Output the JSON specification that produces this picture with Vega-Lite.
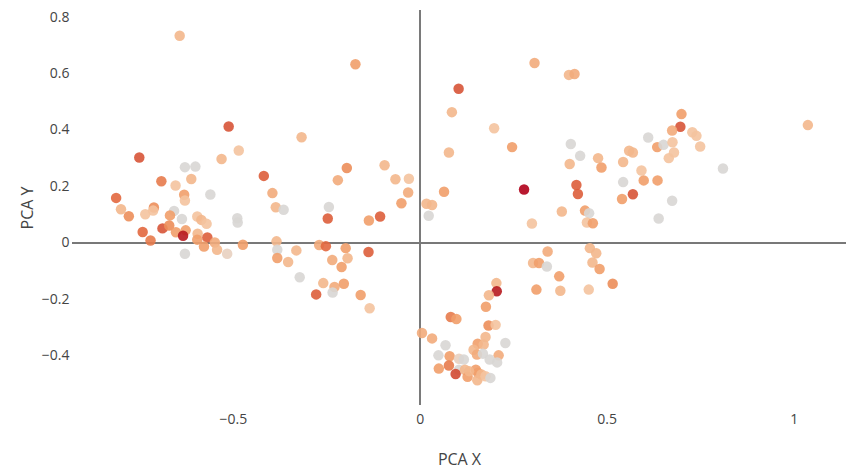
{
  "$schema": "https://vega.github.io/schema/vega-lite/v6.json",
  "autosize": {"type": "none"},
  "padding": {"left": 72, "top": 10, "right": 0, "bottom": 65},
  "width": 774,
  "height": 395,
  "background": "white",
  "config": {
    "view": {"stroke": null},
    "font": "Open Sans",
    "axis": {"domain": false, "ticks": false, "gridColor": "#eeeeee", "gridWidth": 1, "labelColor": "#444444", "labelFontSize": 14, "titleColor": "#444444", "titleFontSize": 16, "titleFontWeight": "normal", "labelFont": "Open Sans", "titleFont": "Open Sans"}
  },
  "data": {"values": [
    {"x": -0.642, "y": 0.734, "c": 0.35}, {"x": -0.511, "y": 0.412, "c": 0.7}, {"x": -0.75, "y": 0.302, "c": 0.7},
    {"x": -0.628, "y": 0.268, "c": 0}, {"x": -0.6, "y": 0.27, "c": 0}, {"x": -0.53, "y": 0.297, "c": 0.35},
    {"x": -0.484, "y": 0.327, "c": 0.3}, {"x": -0.691, "y": 0.218, "c": 0.55}, {"x": -0.653, "y": 0.203, "c": 0.3},
    {"x": -0.611, "y": 0.226, "c": 0.35}, {"x": -0.417, "y": 0.237, "c": 0.65}, {"x": -0.56, "y": 0.171, "c": 0},
    {"x": -0.63, "y": 0.17, "c": 0.45}, {"x": -0.628, "y": 0.15, "c": 0.3}, {"x": -0.812, "y": 0.159, "c": 0.6},
    {"x": -0.799, "y": 0.119, "c": 0.35}, {"x": -0.778, "y": 0.094, "c": 0.5}, {"x": -0.734, "y": 0.101, "c": 0.3},
    {"x": -0.711, "y": 0.125, "c": 0.5}, {"x": -0.713, "y": 0.114, "c": 0.3}, {"x": -0.657, "y": 0.113, "c": 0},
    {"x": -0.668, "y": 0.097, "c": 0.45}, {"x": -0.636, "y": 0.084, "c": 0}, {"x": -0.595, "y": 0.093, "c": 0.3},
    {"x": -0.584, "y": 0.081, "c": 0.35}, {"x": -0.57, "y": 0.067, "c": 0.3}, {"x": -0.488, "y": 0.087, "c": 0},
    {"x": -0.487, "y": 0.072, "c": 0}, {"x": -0.688, "y": 0.051, "c": 0.7}, {"x": -0.67, "y": 0.061, "c": 0.5},
    {"x": -0.741, "y": 0.038, "c": 0.6}, {"x": -0.72, "y": 0.008, "c": 0.55}, {"x": -0.652, "y": 0.037, "c": 0.45},
    {"x": -0.626, "y": 0.044, "c": 0.45}, {"x": -0.633, "y": 0.025, "c": 0.95}, {"x": -0.594, "y": 0.032, "c": 0.35},
    {"x": -0.595, "y": 0.011, "c": 0.45}, {"x": -0.568, "y": 0.019, "c": 0.65}, {"x": -0.577, "y": -0.013, "c": 0.45},
    {"x": -0.548, "y": 0.001, "c": 0.4}, {"x": -0.542, "y": -0.025, "c": 0.35}, {"x": -0.515, "y": -0.039, "c": 0.15},
    {"x": -0.628, "y": -0.039, "c": 0}, {"x": -0.473, "y": -0.007, "c": 0.45}, {"x": -0.394, "y": 0.176, "c": 0.4},
    {"x": -0.385, "y": 0.126, "c": 0.35}, {"x": -0.383, "y": 0.005, "c": 0.35}, {"x": -0.381, "y": -0.025, "c": 0},
    {"x": -0.381, "y": -0.054, "c": 0.45}, {"x": -0.172, "y": 0.633, "c": 0.45}, {"x": -0.316, "y": 0.374, "c": 0.35},
    {"x": -0.195, "y": 0.265, "c": 0.5}, {"x": -0.219, "y": 0.222, "c": 0.4}, {"x": -0.094, "y": 0.275, "c": 0.35},
    {"x": -0.065, "y": 0.225, "c": 0.35}, {"x": -0.029, "y": 0.227, "c": 0.3}, {"x": -0.031, "y": 0.178, "c": 0.4},
    {"x": -0.049, "y": 0.14, "c": 0.45}, {"x": -0.364, "y": 0.117, "c": 0}, {"x": -0.243, "y": 0.127, "c": 0},
    {"x": -0.246, "y": 0.086, "c": 0.65}, {"x": -0.136, "y": 0.079, "c": 0.45}, {"x": -0.106, "y": 0.093, "c": 0.65},
    {"x": -0.352, "y": -0.068, "c": 0.35}, {"x": -0.33, "y": -0.027, "c": 0.35}, {"x": -0.269, "y": -0.008, "c": 0.4},
    {"x": -0.251, "y": -0.012, "c": 0.6}, {"x": -0.198, "y": -0.019, "c": 0.45}, {"x": -0.193, "y": -0.055, "c": 0.35},
    {"x": -0.234, "y": -0.061, "c": 0.4}, {"x": -0.137, "y": -0.033, "c": 0.65}, {"x": -0.209, "y": -0.086, "c": 0.45},
    {"x": 0.018, "y": 0.138, "c": 0.35}, {"x": 0.033, "y": 0.134, "c": 0.35}, {"x": 0.024, "y": 0.096, "c": 0},
    {"x": -0.321, "y": -0.122, "c": 0}, {"x": -0.258, "y": -0.143, "c": 0.35}, {"x": -0.228, "y": -0.157, "c": 0.4},
    {"x": -0.203, "y": -0.145, "c": 0.45}, {"x": -0.277, "y": -0.183, "c": 0.65}, {"x": -0.233, "y": -0.176, "c": 0},
    {"x": -0.158, "y": -0.185, "c": 0.45}, {"x": -0.134, "y": -0.232, "c": 0.3}, {"x": 0.006, "y": -0.32, "c": 0.4},
    {"x": 0.307, "y": 0.637, "c": 0.4}, {"x": 0.399, "y": 0.595, "c": 0.35}, {"x": 0.414, "y": 0.598, "c": 0.4},
    {"x": 0.104, "y": 0.546, "c": 0.7}, {"x": 0.086, "y": 0.463, "c": 0.35}, {"x": 0.199, "y": 0.406, "c": 0.3},
    {"x": 0.078, "y": 0.32, "c": 0.35}, {"x": 0.247, "y": 0.339, "c": 0.45}, {"x": 0.404, "y": 0.35, "c": 0},
    {"x": 0.429, "y": 0.308, "c": 0}, {"x": 0.401, "y": 0.279, "c": 0.35}, {"x": 0.477, "y": 0.3, "c": 0.35},
    {"x": 0.279, "y": 0.189, "c": 1.0}, {"x": 0.419, "y": 0.205, "c": 0.65}, {"x": 0.423, "y": 0.173, "c": 0.65},
    {"x": 0.065, "y": 0.181, "c": 0.45}, {"x": 0.38, "y": 0.111, "c": 0.35}, {"x": 0.442, "y": 0.114, "c": 0.45},
    {"x": 0.453, "y": 0.105, "c": 0}, {"x": 0.447, "y": 0.072, "c": 0.3}, {"x": 0.463, "y": 0.069, "c": 0.45},
    {"x": 0.3, "y": 0.068, "c": 0.3}, {"x": 0.342, "y": -0.031, "c": 0.4}, {"x": 0.303, "y": -0.072, "c": 0.35},
    {"x": 0.319, "y": -0.072, "c": 0.45}, {"x": 0.34, "y": -0.084, "c": 0}, {"x": 0.455, "y": -0.019, "c": 0.35},
    {"x": 0.472, "y": -0.037, "c": 0.35}, {"x": 0.462, "y": -0.07, "c": 0.35}, {"x": 0.481, "y": -0.093, "c": 0.45},
    {"x": 0.373, "y": -0.119, "c": 0.45}, {"x": 0.312, "y": -0.166, "c": 0.45}, {"x": 0.376, "y": -0.17, "c": 0.35},
    {"x": 0.452, "y": -0.166, "c": 0.3}, {"x": 0.205, "y": -0.143, "c": 0.35}, {"x": 0.206, "y": -0.172, "c": 0.95},
    {"x": 0.185, "y": -0.186, "c": 0.35}, {"x": 0.177, "y": -0.227, "c": 0.45}, {"x": 0.083, "y": -0.263, "c": 0.55},
    {"x": 0.098, "y": -0.27, "c": 0.45}, {"x": 0.184, "y": -0.293, "c": 0.5}, {"x": 0.203, "y": -0.291, "c": 0.3},
    {"x": 0.033, "y": -0.339, "c": 0.4}, {"x": 0.069, "y": -0.363, "c": 0}, {"x": 0.176, "y": -0.334, "c": 0.35},
    {"x": 0.155, "y": -0.358, "c": 0.45}, {"x": 0.171, "y": -0.361, "c": 0.35}, {"x": 0.229, "y": -0.355, "c": 0},
    {"x": 0.144, "y": -0.379, "c": 0.35}, {"x": 0.153, "y": -0.396, "c": 0.4}, {"x": 0.169, "y": -0.393, "c": 0},
    {"x": 0.211, "y": -0.399, "c": 0.4}, {"x": 0.05, "y": -0.399, "c": 0}, {"x": 0.08, "y": -0.402, "c": 0.45},
    {"x": 0.105, "y": -0.411, "c": 0.15}, {"x": 0.118, "y": -0.414, "c": 0}, {"x": 0.187, "y": -0.414, "c": 0},
    {"x": 0.207, "y": -0.424, "c": 0}, {"x": 0.051, "y": -0.446, "c": 0.45}, {"x": 0.078, "y": -0.435, "c": 0.55},
    {"x": 0.105, "y": -0.45, "c": 0}, {"x": 0.096, "y": -0.465, "c": 0.75}, {"x": 0.121, "y": -0.45, "c": 0.35},
    {"x": 0.128, "y": -0.475, "c": 0.45}, {"x": 0.15, "y": -0.45, "c": 0.45}, {"x": 0.156, "y": -0.461, "c": 0.45},
    {"x": 0.165, "y": -0.467, "c": 0.35}, {"x": 0.154, "y": -0.487, "c": 0.35}, {"x": 0.176, "y": -0.473, "c": 0.3},
    {"x": 0.189, "y": -0.479, "c": 0}, {"x": 0.132, "y": -0.455, "c": 0.35}, {"x": 0.7, "y": 0.456, "c": 0.45},
    {"x": 0.697, "y": 0.411, "c": 0.7}, {"x": 0.675, "y": 0.398, "c": 0.4}, {"x": 0.729, "y": 0.392, "c": 0.3},
    {"x": 0.74, "y": 0.379, "c": 0.3}, {"x": 0.611, "y": 0.373, "c": 0}, {"x": 1.038, "y": 0.417, "c": 0.35},
    {"x": 0.635, "y": 0.339, "c": 0.45}, {"x": 0.652, "y": 0.347, "c": 0}, {"x": 0.676, "y": 0.356, "c": 0.3},
    {"x": 0.75, "y": 0.341, "c": 0.3}, {"x": 0.68, "y": 0.32, "c": 0.3}, {"x": 0.666, "y": 0.3, "c": 0.3},
    {"x": 0.56, "y": 0.326, "c": 0.35}, {"x": 0.57, "y": 0.32, "c": 0.35}, {"x": 0.544, "y": 0.286, "c": 0.35},
    {"x": 0.486, "y": 0.267, "c": 0.45}, {"x": 0.593, "y": 0.256, "c": 0.3}, {"x": 0.599, "y": 0.221, "c": 0.45},
    {"x": 0.636, "y": 0.221, "c": 0.45}, {"x": 0.544, "y": 0.215, "c": 0}, {"x": 0.811, "y": 0.263, "c": 0},
    {"x": 0.57, "y": 0.172, "c": 0.7}, {"x": 0.541, "y": 0.155, "c": 0.45}, {"x": 0.675, "y": 0.149, "c": 0},
    {"x": 0.639, "y": 0.086, "c": 0}, {"x": 0.516, "y": -0.145, "c": 0.5}
  ]},
  "layer": [
    {
      "mark": {"type": "rule", "color": "#7a7a7a", "strokeWidth": 1.2},
      "encoding": {"x": {"datum": 0, "type": "quantitative", "scale": {"domain": [-0.93, 1.14], "nice": false, "zero": false}}}
    },
    {
      "mark": {"type": "rule", "color": "#7a7a7a", "strokeWidth": 1.2},
      "encoding": {"y": {"datum": 0, "type": "quantitative", "scale": {"domain": [-0.575, 0.825], "nice": false, "zero": false}}}
    },
    {
      "mark": {"type": "circle", "size": 110, "opacity": 0.9},
      "encoding": {
        "x": {"field": "x", "type": "quantitative", "scale": {"domain": [-0.93, 1.14], "nice": false, "zero": false},
              "axis": {"values": [-0.5, 0, 0.5, 1], "format": "~g", "title": "PCA X", "labelPadding": 7, "titlePadding": 25}},
        "y": {"field": "y", "type": "quantitative", "scale": {"domain": [-0.575, 0.825], "nice": false, "zero": false},
              "axis": {"values": [-0.4, -0.2, 0, 0.2, 0.4, 0.6, 0.8], "format": "~g", "title": "PCA Y", "labelPadding": 3, "titlePadding": 6}},
        "color": {"field": "c", "type": "quantitative", "legend": null,
                  "scale": {"domain": [0, 0.15, 0.3, 0.45, 0.6, 0.75, 1], "range": ["#d8d6d4", "#e8d0c0", "#f4c39e", "#f19f6a", "#e2683f", "#d24a33", "#b0001a"]}}
      }
    }
  ]
}
